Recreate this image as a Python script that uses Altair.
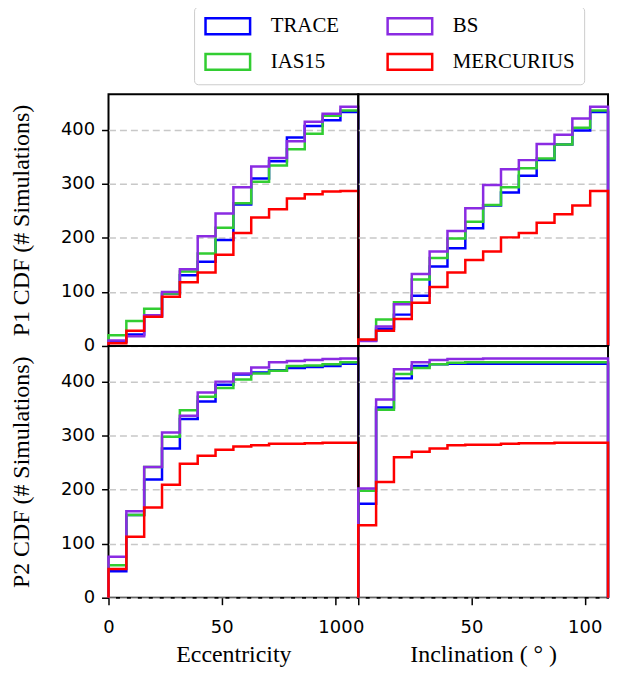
import altair as alt
import numpy as np
import pandas as pd

# ---------------- data ----------------
series = ["TRACE", "IAS15", "BS", "MERCURIUS"]          # drawing / legend order
series_colors = ["#0000ff", "#32cd32", "#8a2be2", "#ff0000"]

x_max = 110.3
n_bins = 14
y_ticks = [0, 100, 200, 300, 400]
x_ticks = [0, 50, 100]

# P1, eccentricity
p1_ecc_trace = [8, 21, 55, 97, 131, 156, 196, 262, 310, 342, 386, 407, 418, 433]
p1_ecc_ias15 = [20, 46, 69, 97, 138, 171, 219, 264, 304, 334, 364, 393, 426, 436]
p1_ecc_bs = [10, 18, 57, 100, 142, 203, 245, 294, 332, 348, 379, 415, 430, 443]
p1_ecc_merc = [5, 28, 54, 91, 118, 136, 169, 209, 238, 253, 273, 281, 286, 287]

# P1, inclination
p1_inc_trace = [10, 32, 58, 93, 147, 181, 218, 260, 284, 315, 344, 373, 399, 433]
p1_inc_ias15 = [11, 49, 81, 123, 163, 199, 230, 261, 294, 329, 347, 373, 404, 436]
p1_inc_bs = [9, 36, 77, 133, 175, 213, 255, 298, 327, 344, 374, 391, 421, 443]
p1_inc_merc = [12, 28, 50, 80, 109, 136, 159, 175, 201, 209, 228, 244, 260, 287]

# P2, eccentricity
p2_ecc_trace = [49, 153, 219, 276, 331, 363, 394, 413, 417, 421, 425, 427, 429, 433]
p2_ecc_ias15 = [60, 153, 242, 298, 347, 372, 388, 404, 415, 420, 429, 430, 432, 436]
p2_ecc_bs = [76, 160, 242, 306, 337, 380, 400, 415, 426, 436, 438, 440, 442, 443]
p2_ecc_merc = [53, 113, 167, 209, 248, 263, 274, 280, 282, 285, 285, 286, 287, 287]

# P2, inclination
p2_inc_trace = [174, 352, 406, 429, 432, 433, 433, 433, 433, 433, 433, 433, 433, 433]
p2_inc_ias15 = [198, 348, 414, 425, 432, 435, 436, 436, 436, 436, 436, 436, 436, 436]
p2_inc_bs = [202, 367, 423, 436, 440, 442, 442, 443, 443, 443, 443, 443, 443, 443]
p2_inc_merc = [134, 214, 260, 270, 276, 282, 283, 283, 285, 286, 286, 287, 287, 287]

panels = {
    "p1_ecc": [p1_ecc_trace, p1_ecc_ias15, p1_ecc_bs, p1_ecc_merc],
    "p1_inc": [p1_inc_trace, p1_inc_ias15, p1_inc_bs, p1_inc_merc],
    "p2_ecc": [p2_ecc_trace, p2_ecc_ias15, p2_ecc_bs, p2_ecc_merc],
    "p2_inc": [p2_inc_trace, p2_inc_ias15, p2_inc_bs, p2_inc_merc],
}

edges = np.linspace(0, x_max, n_bins + 1)


def outline(name, vals):
    """Vertices of a step-histogram outline (as matplotlib histtype='step')."""
    rows = [(0, edges[0], 0)]
    k = 1
    for i, v in enumerate(vals):
        rows.append((k, edges[i], v)); k += 1
        rows.append((k, edges[i + 1], v)); k += 1
    rows.append((k, edges[-1], 0))
    return pd.DataFrame({"i": [r[0] for r in rows], "x": [r[1] for r in rows],
                         "y": [r[2] for r in rows], "series": name})


# ---------------- style ----------------
W, H = 251, 253
TICK_FONT = "DejaVu Sans"
SERIF = "Liberation Serif"

xscale = alt.Scale(domain=[0, x_max], nice=False, zero=False)
yscale = alt.Scale(domain=[0, 466], nice=False)
cscale = alt.Scale(domain=series, range=series_colors)

legend = alt.Legend(
    title=None, orient="none", legendX=86, legendY=-88, columns=2,
    symbolType="M-1,-1H4.6V1H-1Z", symbolSize=256, symbolStrokeWidth=2.5,
    symbolFillColor="white", symbolOpacity=1,
    labelFont=SERIF, labelFontSize=21, labelColor="black", labelOffset=47,
    strokeColor="#cccccc", fillColor="white", padding=9, cornerRadius=4,
    columnPadding=43, rowPadding=9,
)

grid_kw = dict(grid=True, gridColor="#c8c8c8", gridDash=[7, 4], gridWidth=1.5,
               values=y_ticks, domain=False)


def y_axis(title):
    if title is None:
        return alt.Axis(labels=False, ticks=False, title=None, **grid_kw)
    return alt.Axis(title=title, titleFont=SERIF, titleFontSize=24, titleFontWeight="normal",
                    titleColor="black", titlePadding=27,
                    labelFont=TICK_FONT, labelFontSize=18, labelColor="black", labelPadding=7,
                    tickSize=7, tickWidth=1.5, tickColor="black", **grid_kw)


def x_axis(title):
    if title is None:
        return None
    return alt.Axis(title=title, titleFont=SERIF, titleFontSize=24, titleFontWeight="normal",
                    titleColor="black", titlePadding=6, values=x_ticks, grid=False, domain=False,
                    labelFont=TICK_FONT, labelFontSize=18, labelColor="black", labelPadding=14,
                    labelFlush=False, labelOverlap=False, labelBound=False,
                    tickSize=7, tickWidth=1.5, tickColor="black")


def panel(key, xtitle, ytitle):
    layers = []
    for name, vals in zip(series, panels[key]):
        df = outline(name, vals)
        layers.append(
            alt.Chart(df).mark_line(strokeWidth=2.5, clip=False).encode(
                x=alt.X("x:Q", scale=xscale, axis=x_axis(xtitle)),
                y=alt.Y("y:Q", scale=yscale, axis=y_axis(ytitle)),
                color=alt.Color("series:N", scale=cscale, legend=legend),
                order=alt.Order("i:Q"),
            )
        )
    return alt.layer(*layers).properties(width=W, height=H)


chart = alt.concat(
    panel("p1_ecc", None, "P1 CDF (# Simulations)"),
    panel("p1_inc", None, None),
    panel("p2_ecc", "Eccentricity", "P2 CDF (# Simulations)"),
    panel("p2_inc", "Inclination ( ° )", None),
    columns=2, spacing=0, bounds="flush",
).properties(
    padding={"left": 0, "top": -4, "right": 0, "bottom": 0}, background="white"
).configure_view(stroke="black", strokeWidth=2)

chart.save("out.html", embed_options={"renderer": "svg", "actions": False})
